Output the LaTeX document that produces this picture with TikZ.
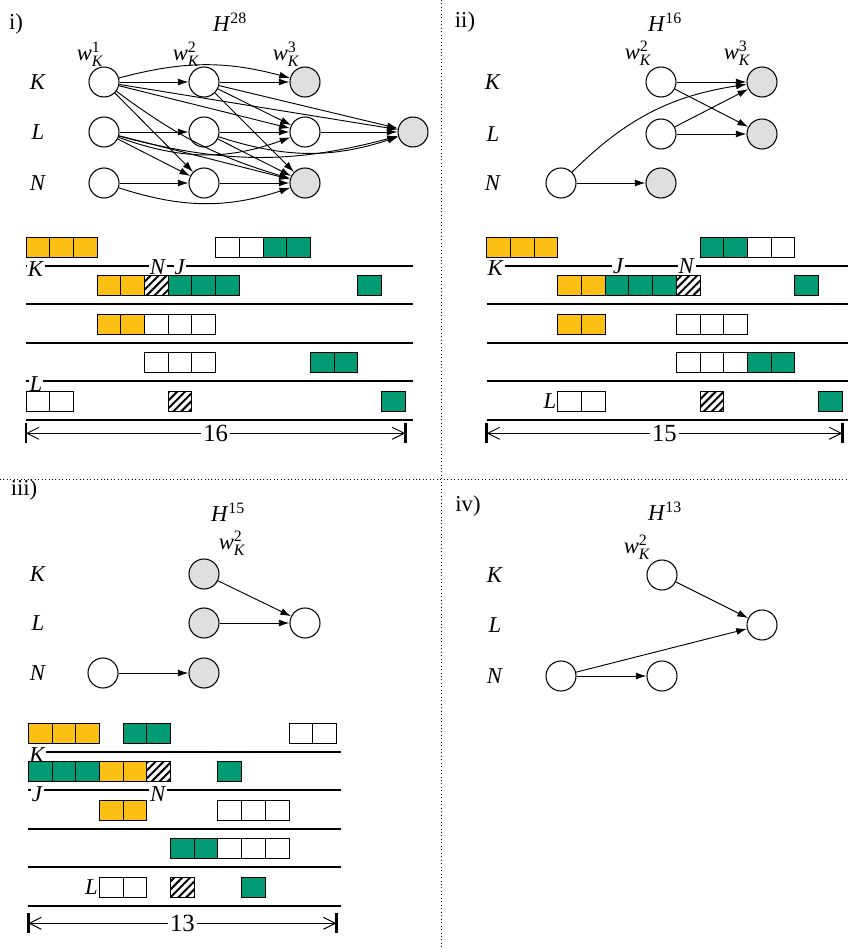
\documentclass[tikz,border=0pt]{standalone}
\usepackage{fontspec}
\setmainfont{Liberation Serif}
\usetikzlibrary{arrows.meta, patterns.meta}
\definecolor{jobyellow}{RGB}{252,192,20}
\definecolor{jobgreen}{RGB}{0,155,115}
\tikzset{>={Latex[length=8pt,width=5.2pt]}}
\newcommand{\wK}[1]{$\mathit{w}_{\mathit{K}}^{\mathrm{#1}}$}
\newcommand{\cellw}{23.7}

\begin{document}
\begin{tikzpicture}[x=0.75pt, y=-0.75pt, font=\fontsize{17}{20}\selectfont,
  job/.style={circle, draw, line width=0.8pt, minimum size=22.5pt, inner sep=0pt, fill=white},
  done/.style={job, fill=gray!25},
  link/.style={->, line width=0.7pt},
  ybox/.style={draw, line width=0.7pt, fill=jobyellow},
  gbox/.style={draw, line width=0.7pt, fill=jobgreen},
  wbox/.style={draw, line width=0.7pt, fill=white},
  hbox/.style={draw, line width=0.7pt, pattern={Lines[angle=45,distance=4.2pt,line width=1.5pt]}},
  tag/.style={fill=white, inner sep=0.6pt},
  dim/.style={{Straight Barb[length=9pt,width=9pt]}-{Straight Barb[length=9pt,width=9pt]}, line width=0.7pt},
  dimtext/.style={fill=white, inner sep=1.5pt, font=\fontsize{18.5}{21}\selectfont}]
\useasboundingbox (0,0) rectangle (848,949);

% panel dividers
\draw[dotted, line width=0.6pt] (441,0) -- (441,949);
\draw[dotted, line width=0.6pt] (0,479.5) -- (848,479.5);

% ---------- i) ----------
\node (iTag) at (16,24) {i)};
\node (iH) at (230,22) {\textit{H}\textsuperscript{28}};
\node (iW1) at (90,54) {\wK{1}};
\node (iW2) at (186,54) {\wK{2}};
\node (iW3) at (286,54) {\wK{3}};
\node (iK) at (38,82) {\textit{K}};
\node (iL) at (38,132) {\textit{L}};
\node (iN) at (38,183) {\textit{N}};

\node[job] (iK1) at (104,82) {};
\node[job] (iK2) at (204,82) {};
\node[done] (iK3) at (305,82) {};
\node[job] (iL1) at (104,132) {};
\node[job] (iL2) at (204,132) {};
\node[job] (iL3) at (305,132) {};
\node[done] (iL4) at (413,132) {};
\node[job] (iN1) at (104,183) {};
\node[job] (iN2) at (204,183) {};
\node[done] (iN3) at (305,183) {};

\draw[link] (iK1) to[bend left=15] (iK3);
\draw[link] (iK1) -- (iK2);
\draw[link] (iK1) -- (iL3);
\draw[link] (iK1) -- (iL4);
\draw[link] (iK1) -- (iN2);
\draw[link] (iK1) to[bend right=10] (iN3);
\draw[link] (iK2) -- (iK3);
\draw[link] (iK2) -- (iL3);
\draw[link] (iK2) -- (iL4);
\draw[link] (iK2) -- (iN3);
\draw[link] (iL1) -- (iL2);
\draw[link] (iL1) -- (iN2);
\draw[link] (iL1) -- (iN3);
\draw[link] (iL1) to[bend right=20] (iL3);
\draw[link] (iL1) to[bend right=15] (iL4);
\draw[link] (iL2) -- (iL3);
\draw[link] (iL2) -- (iN3);
\draw[link] (iL2) to[bend right=18] (iL4);
\draw[link] (iL3) -- (iL4);
\draw[link] (iN1) -- (iN2);
\draw[link] (iN1) to[bend right=18] (iN3);
\draw[link] (iN2) -- (iN3);

\begin{scope}[shift={(26,265.7)}]
  \foreach \r in {0,...,4}
    \draw[line width=1.5pt] (0,{\r*38.5}) -- (387,{\r*38.5});
  \node[tag] (iGK) at (10,3) {\textit{K}};
  \node[tag] (iGN) at (132,1) {\textit{N}};
  \node[tag] (iGJ) at (154,1) {\textit{J}};
  \node[tag] (iGL) at (10,{3*38.5+3}) {\textit{L}};
  \foreach \r/\cells in {0/{0/ybox,1/ybox,2/ybox,8/wbox,9/wbox,10/gbox,11/gbox},
                         1/{3/ybox,4/ybox,5/hbox,6/gbox,7/gbox,8/gbox,14/gbox},
                         2/{3/ybox,4/ybox,5/wbox,6/wbox,7/wbox},
                         3/{5/wbox,6/wbox,7/wbox,12/gbox,13/gbox},
                         4/{0/wbox,1/wbox,6/hbox,15/gbox}}
    \foreach \c/\s in \cells
      \draw[\s] ({\c*\cellw},{\r*38.5-28.5}) rectangle ++(\cellw,20);
  \coordinate (iD0) at (0,167.6);
  \coordinate (iD1) at ({16*\cellw},167.6);
  \draw[line width=2pt] (0,157.6) -- (0,177.6);
  \draw[line width=2pt] ({16*\cellw},157.6) -- ({16*\cellw},177.6);
  \draw[dim] (iD0) -- (iD1) node[midway, dimtext] (iLen) {16};
\end{scope}

% ---------- ii) ----------
\node (iiTag) at (465,22) {ii)};
\node (iiH) at (665,22) {\textit{H}\textsuperscript{16}};
\node (iiW2) at (638,53) {\wK{2}};
\node (iiW3) at (737,53) {\wK{3}};
\node (iiK) at (493,82) {\textit{K}};
\node (iiL) at (493,134) {\textit{L}};
\node (iiN) at (493,183) {\textit{N}};

\node[job] (iiK2) at (661,82) {};
\node[done] (iiK3) at (762,82) {};
\node[job] (iiL2) at (661,134) {};
\node[done] (iiL3) at (762,134) {};
\node[job] (iiN1) at (561,183) {};
\node[done] (iiN2) at (661,183) {};

\draw[link] (iiK2) -- (iiK3);
\draw[link] (iiK2) -- (iiL3);
\draw[link] (iiL2) -- (iiK3);
\draw[link] (iiL2) -- (iiL3);
\draw[link] (iiN1) to[bend left=18] (iiK3);
\draw[link] (iiN1) -- (iiN2);

\begin{scope}[shift={(486.7,265.7)}]
  \foreach \r in {0,...,4}
    \draw[line width=1.5pt] (0,{\r*38.5}) -- (361.3,{\r*38.5});
  \node[tag] (iiGK) at (9,2) {\textit{K}};
  \node[tag] (iiGJ) at (132,0) {\textit{J}};
  \node[tag] (iiGN) at (200,0) {\textit{N}};
  \node[anchor=east, inner sep=1pt] (iiGL) at ({3*\cellw},{4*38.5-18.5}) {\textit{L}};
  \foreach \r/\cells in {0/{0/ybox,1/ybox,2/ybox,9/gbox,10/gbox,11/wbox,12/wbox},
                         1/{3/ybox,4/ybox,5/gbox,6/gbox,7/gbox,8/hbox,13/gbox},
                         2/{3/ybox,4/ybox,8/wbox,9/wbox,10/wbox},
                         3/{8/wbox,9/wbox,10/wbox,11/gbox,12/gbox},
                         4/{3/wbox,4/wbox,9/hbox,14/gbox}}
    \foreach \c/\s in \cells
      \draw[\s] ({\c*\cellw},{\r*38.5-28.5}) rectangle ++(\cellw,20);
  \coordinate (iiD0) at (0,167.6);
  \coordinate (iiD1) at ({15*\cellw},167.6);
  \draw[line width=2pt] (0,157.6) -- (0,177.6);
  \draw[line width=2pt] ({15*\cellw},157.6) -- ({15*\cellw},177.6);
  \draw[dim] (iiD0) -- (iiD1) node[midway, dimtext] (iiLen) {15};
\end{scope}

% ---------- iii) ----------
\node (iiiTag) at (24,490) {iii)};
\node (iiiH) at (228,512) {\textit{H}\textsuperscript{15}};
\node (iiiW2) at (232,543) {\wK{2}};
\node (iiiK) at (38,574) {\textit{K}};
\node (iiiL) at (38,623) {\textit{L}};
\node (iiiN) at (38,673) {\textit{N}};

\node[done] (iiiK2) at (204,574) {};
\node[done] (iiiL2) at (204,623) {};
\node[job] (iiiL3) at (305,623) {};
\node[job] (iiiN1) at (103,673) {};
\node[done] (iiiN2) at (204,673) {};

\draw[link] (iiiK2) -- (iiiL3);
\draw[link] (iiiL2) -- (iiiL3);
\draw[link] (iiiN1) -- (iiiN2);

\begin{scope}[shift={(28.3,751.7)}]
  \foreach \r in {0,...,4}
    \draw[line width=1.5pt] (0,{\r*38.5}) -- (312.4,{\r*38.5});
  \node[tag] (iiiGK) at (9,3) {\textit{K}};
  \node[tag] (iiiGJ) at (9,{38.5+4}) {\textit{J}};
  \node[tag] (iiiGN) at (130,{38.5+4}) {\textit{N}};
  \node[anchor=east, inner sep=1pt] (iiiGL) at ({3*\cellw},{4*38.5-18.5}) {\textit{L}};
  \foreach \r/\cells in {0/{0/ybox,1/ybox,2/ybox,4/gbox,5/gbox,11/wbox,12/wbox},
                         1/{0/gbox,1/gbox,2/gbox,3/ybox,4/ybox,5/hbox,8/gbox},
                         2/{3/ybox,4/ybox,8/wbox,9/wbox,10/wbox},
                         3/{6/gbox,7/gbox,8/wbox,9/wbox,10/wbox},
                         4/{3/wbox,4/wbox,6/hbox,9/gbox}}
    \foreach \c/\s in \cells
      \draw[\s] ({\c*\cellw},{\r*38.5-28.5}) rectangle ++(\cellw,20);
  \coordinate (iiiD0) at (0,171.6);
  \coordinate (iiiD1) at ({13*\cellw},171.6);
  \draw[line width=2pt] (0,161.6) -- (0,181.6);
  \draw[line width=2pt] ({13*\cellw},161.6) -- ({13*\cellw},181.6);
  \draw[dim] (iiiD0) -- (iiiD1) node[midway, dimtext] (iiiLen) {13};
\end{scope}

% ---------- iv) ----------
\node (ivTag) at (468,506) {iv)};
\node (ivH) at (665,511) {\textit{H}\textsuperscript{13}};
\node (ivW2) at (637,547) {\wK{2}};
\node (ivK) at (495,575) {\textit{K}};
\node (ivL) at (495,625) {\textit{L}};
\node (ivN) at (495,676) {\textit{N}};

\node[job] (ivK2) at (662,575) {};
\node[job] (ivL3) at (762,625) {};
\node[job] (ivN1) at (561,676) {};
\node[job] (ivN2) at (662,676) {};

\draw[link] (ivK2) -- (ivL3);
\draw[link] (ivN1) -- (ivL3);
\draw[link] (ivN1) -- (ivN2);
\end{tikzpicture}
\end{document}
